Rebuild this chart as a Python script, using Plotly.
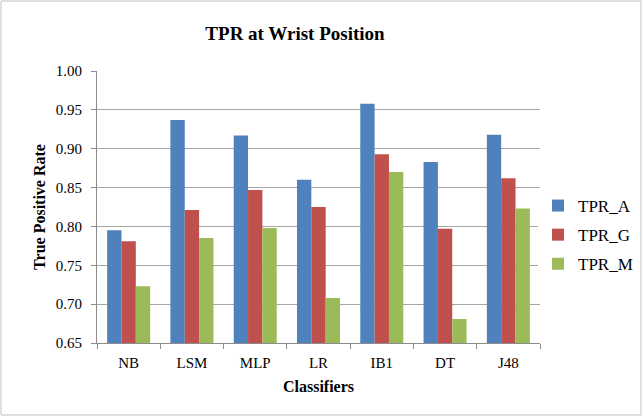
import plotly.graph_objects as go

categories = ["NB", "LSM", "MLP", "LR", "IB1", "DT", "J48"]
tpr_a = [0.795, 0.937, 0.917, 0.860, 0.958, 0.883, 0.918]
tpr_g = [0.781, 0.821, 0.847, 0.825, 0.893, 0.797, 0.862]
tpr_m = [0.723, 0.785, 0.798, 0.708, 0.870, 0.681, 0.823]
series_names = ["TPR_A", "TPR_G", "TPR_M"]
colors = ["#4F81BD", "#C0504D", "#9BBB59"]
y_ticks = [0.65, 0.70, 0.75, 0.80, 0.85, 0.90, 0.95, 1.00]

W, H = 643, 417
L, R, T, B = 97, 103, 71, 74
pw, ph = W - L - R, H - T - B

fig = go.Figure()
for i, (name, vals) in enumerate(zip(series_names, [tpr_a, tpr_g, tpr_m])):
    fig.add_trace(go.Bar(
        x=categories, y=vals, name=name, legendgroup=name,
        marker=dict(color=colors[i], line=dict(width=0)),
    ))

font_family = "Liberation Serif"
fig.update_layout(
    width=W, height=H,
    margin=dict(l=L, r=R, t=T, b=B, autoexpand=False),
    paper_bgcolor="white", plot_bgcolor="white",
    barmode="group", bargap=0.32, bargroupgap=0,
    font=dict(family=font_family, size=15, color="black"),
    title=dict(text="<b>TPR at Wrist Position</b>", x=295 / W, xanchor="center",
               y=1 - 33 / H, yanchor="middle", yref="container",
               font=dict(size=19, family=font_family)),
    xaxis=dict(
        showline=True, linecolor="#8C8C8C", linewidth=1,
        ticks="outside", tickson="boundaries", ticklen=5, tickcolor="#8C8C8C",
        ticklabelstandoff=6,
        title=dict(text="<b>Classifiers</b>", standoff=10, font=dict(size=16)),
        tickfont=dict(size=15, family=font_family),
    ),
    yaxis=dict(
        range=[0.65, 1.0], tickvals=y_ticks,
        ticktext=[f"{v:.2f}" for v in y_ticks],
        showgrid=True, gridcolor="#A6A6A6", gridwidth=1,
        showline=True, linecolor="#8C8C8C", linewidth=1,
        ticks="outside", ticklen=5, tickcolor="#8C8C8C",
        ticklabelstandoff=6,
        zeroline=False,
        title=dict(text="<b>True Positive Rate</b>", standoff=6, font=dict(size=16)),
        tickfont=dict(size=15, family=font_family),
    ),
    legend=dict(xref="container", yref="container", x=538 / W, y=1 - 235 / H,
                xanchor="left", yanchor="middle",
                tracegroupgap=4, font=dict(size=17, family=font_family), itemwidth=30),
    shapes=[dict(type="rect", xref="paper", yref="paper",
                 x0=(1 - L) / pw, x1=(W - 2 - L) / pw,
                 y0=(H - B - (H - 2)) / ph, y1=(H - B - 1) / ph,
                 line=dict(color="#BFBFBF", width=1), fillcolor="rgba(0,0,0,0)")],
)

fig.write_html("out.html", config={"displayModeBar": False},
               post_script="document.body.style.margin='0px';")
